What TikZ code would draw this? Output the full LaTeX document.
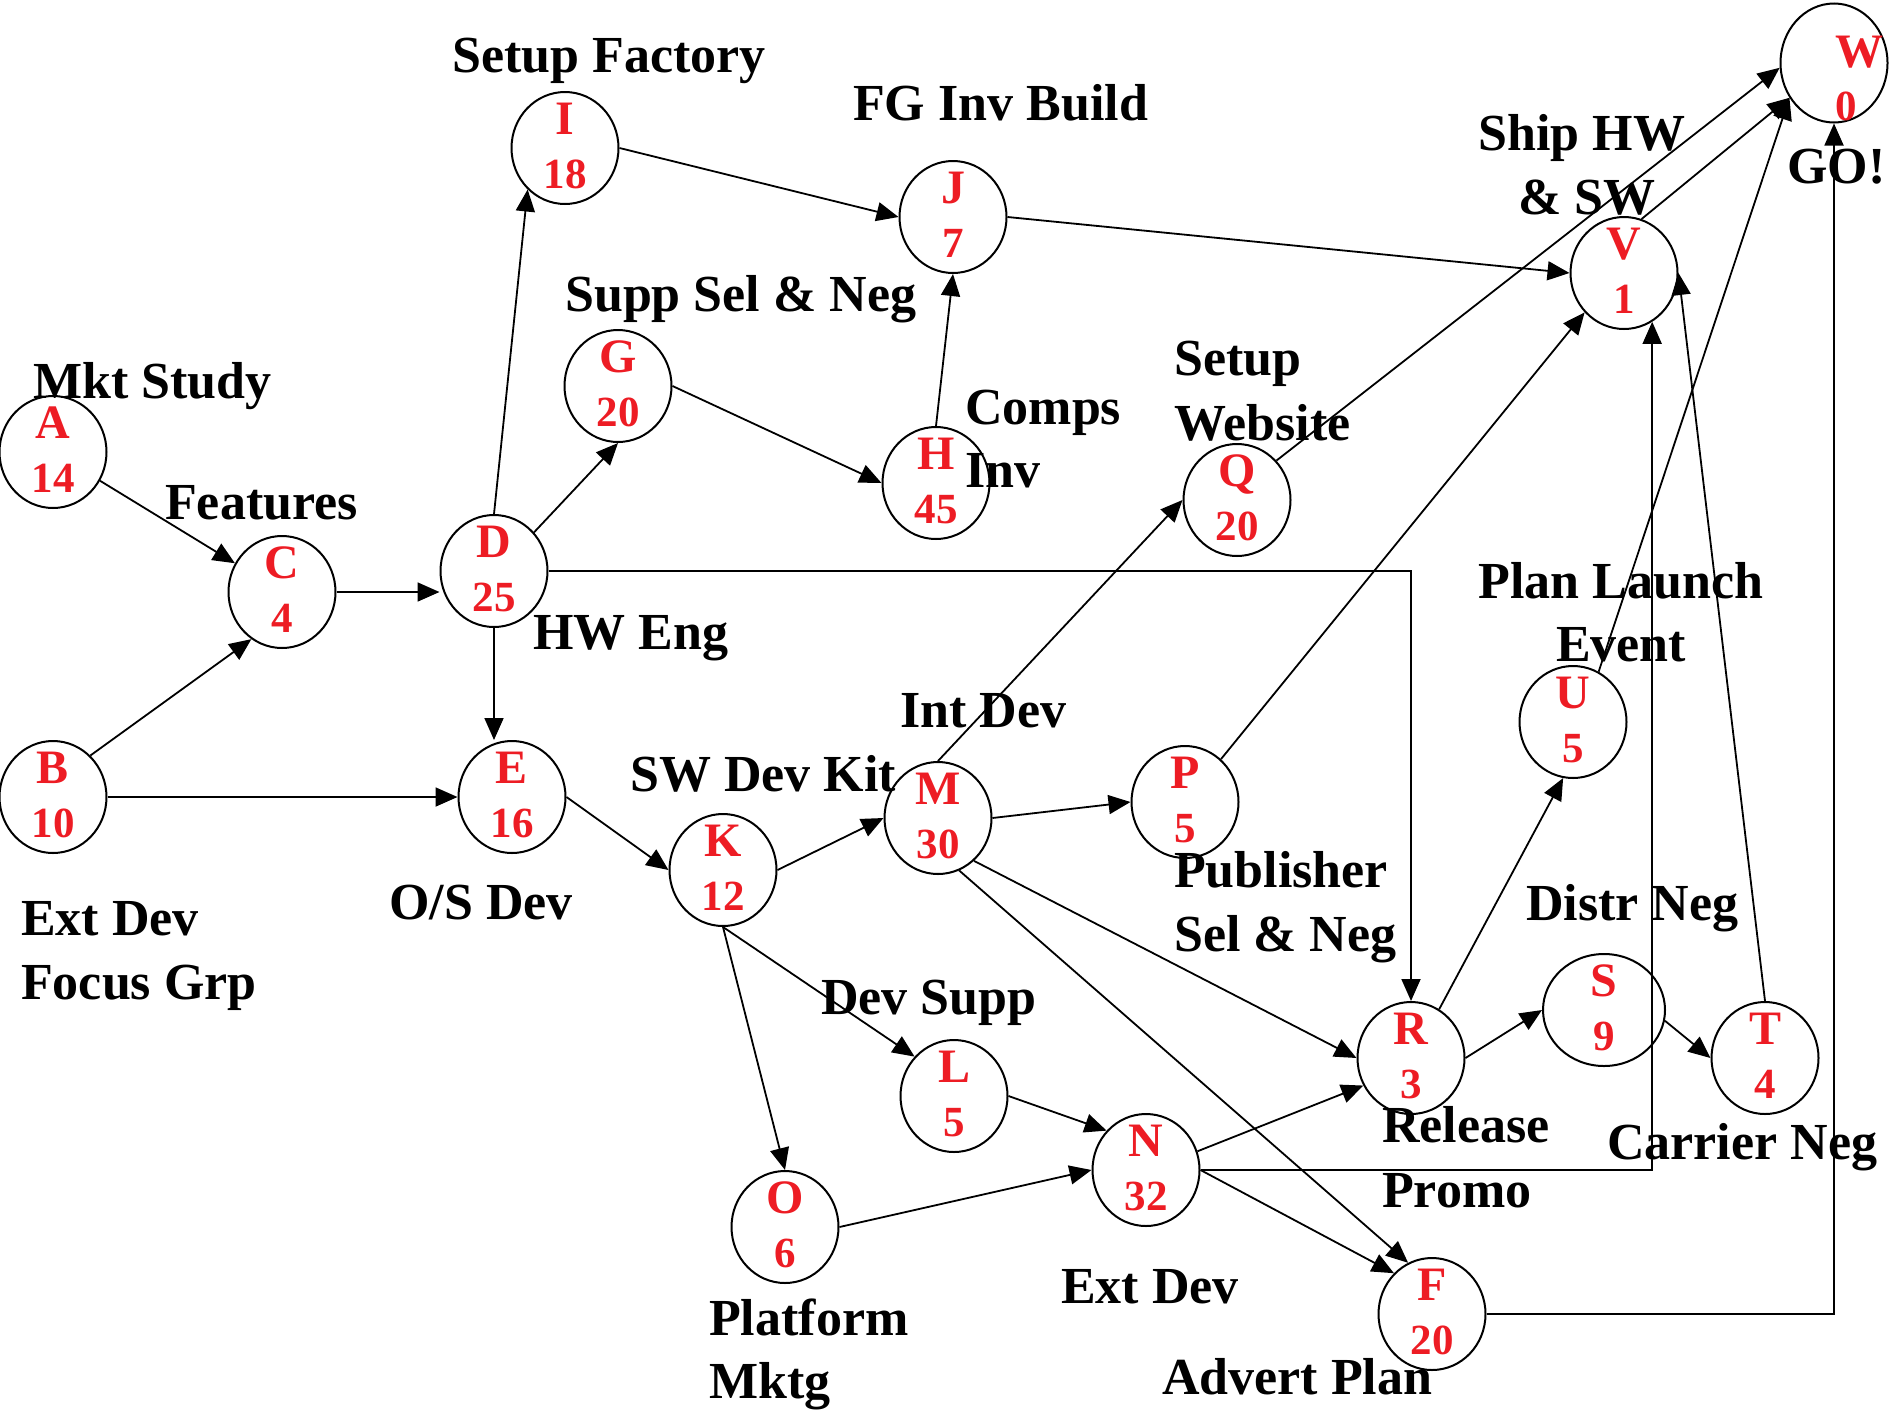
\documentclass[tikz,border=0pt]{standalone}
\usepackage{fontspec}
\setmainfont{Liberation Serif}
\usepackage{tikz}
\usetikzlibrary{shapes.geometric,arrows.meta,calc}
\definecolor{evred}{RGB}{237,28,36}
% event circle: name, x, y, letter, duration
\newcommand{\evt}[5]{%
  \node[ev] (#1) at (#2,#3) {};
  \node[evlet] (#1l) at (#2,#3-14) {#4};
  \node[evnum] (#1n) at (#2,#3+40) {#5};}

\begin{document}
\begin{tikzpicture}[x=1pt, y=-1pt,
    ev/.style={ellipse, draw, line width=2pt, minimum width=107pt, minimum height=112pt, inner sep=0pt},
    evlet/.style={anchor=base, inner sep=0pt, text=evred, font=\fontsize{48}{48}\selectfont\bfseries},
    evnum/.style={anchor=base, inner sep=0pt, text=evred, font=\fontsize{43}{43}\selectfont\bfseries},
    lbl/.style={anchor=base west, inner sep=0pt, font=\fontsize{52}{52}\selectfont\bfseries},
    lblc/.style={lbl, anchor=base},
    arr/.style={-{Triangle[length=22pt,width=19pt]}, line width=1.8pt}
]
    \useasboundingbox (0,0) rectangle (1892,1411);

    % events
    \evt{A}{53}{452}{A}{14}
    \evt{B}{53}{797}{B}{10}
    \evt{C}{282}{592}{C}{4}
    \evt{D}{494}{571}{D}{25}
    \evt{E}{512}{797}{E}{16}
    \evt{F}{1432}{1314}{F}{20}
    \evt{G}{618}{386}{G}{20}
    \evt{H}{936}{483}{H}{45}
    \evt{I}{565}{148}{I}{18}
    \evt{J}{953}{217}{J}{7}
    \evt{K}{723}{870}{K}{12}
    \evt{L}{954}{1096}{L}{5}
    \evt{M}{938}{818}{M}{30}
    \evt{N}{1146}{1170}{N}{32}
    \evt{O}{785}{1227}{O}{6}
    \evt{P}{1185}{802}{P}{5}
    \evt{Q}{1237}{500}{Q}{20}
    \evt{R}{1411}{1058}{R}{3}
    \node[ev, minimum width=122pt] (S) at (1604,1010) {};
    \node[evlet] (Sl) at (1604,996) {S};
    \node[evnum] (Sn) at (1604,1050) {9};
    \evt{T}{1765}{1058}{T}{4}
    \evt{U}{1573}{722}{U}{5}
    \evt{V}{1624}{273}{V}{1}
    \node[ev, minimum height=119pt] (W) at (1834,63) {};
    \node[evlet, anchor=base west] (Wl) at (1835,67) {W};
    \node[evnum, anchor=base west] (Wn) at (1835,120) {0};

    % task labels
    \node[lbl] (tMkt) at (33,398) {Mkt Study};
    \node[lbl] (tFeat) at (165,519) {Features};
    \node[lbl] (tExt1) at (21,935) {Ext Dev};
    \node[lbl] (tExt2) at (21,999) {Focus Grp};
    \node[lbl] (tHW) at (533,649) {HW Eng};
    \node[lbl] (tOS) at (389,919) {O/S Dev};
    \node[lbl] (tFac) at (452,72) {Setup Factory};
    \node[lbl] (tSupp) at (565,311) {Supp Sel \& Neg};
    \node[lbl] (tFG) at (853,120) {FG Inv Build};
    \node[lbl] (tComp1) at (965,424) {Comps};
    \node[lbl] (tComp2) at (965,487) {Inv};
    \node[lbl] (tWeb1) at (1174,375) {Setup};
    \node[lbl] (tWeb2) at (1174,440) {Website};
    \node[lblc] (tShip1) at (1582,150) {Ship HW};
    \node[lblc] (tShip2) at (1587,214) {\& SW};
    \node[lbl] (tGo) at (1787,183) {GO!};
    \node[lblc] (tLaunch1) at (1621,598) {Plan Launch};
    \node[lblc] (tLaunch2) at (1621,661) {Event};
    \node[lbl] (tKit) at (630,791) {SW Dev Kit};
    \node[lbl] (tInt) at (900,727) {Int Dev};
    \node[lbl] (tDevS) at (821,1014) {Dev Supp};
    \node[lbl] (tPlat1) at (709,1335) {Platform};
    \node[lbl] (tPlat2) at (709,1398) {Mktg};
    \node[lbl] (tPub1) at (1174,887) {Publisher};
    \node[lbl] (tPub2) at (1174,951) {Sel \& Neg};
    \node[lbl] (tDistr) at (1526,920) {Distr Neg};
    \node[lbl] (tRel1) at (1382,1142) {Release};
    \node[lbl] (tRel2) at (1382,1207) {Promo};
    \node[lbl] (tCarr) at (1607,1159) {Carrier Neg};
    \node[lbl] (tExtN) at (1061,1303) {Ext Dev};
    \node[lbl] (tAdv) at (1162,1394) {Advert Plan};

    % precedence arrows
    \draw[arr] (A) -- (C);
    \draw[arr] (B.48) -- (C.237);
    \draw[arr] (C.east) -- (C.east -| D.west);
    \draw[arr] (B.east) -- (E.west);
    \draw[arr] (D.north) -- (I.228);
    \draw[arr] (D.44) -- (G.south);
    \draw[arr] (D.south) -- (D.south |- E.north);
    \draw[arr] (D.east) -| (R.north);
    \draw[arr] (E.east) -- (K.west);
    \draw[arr] (I.east) -- (J.west);
    \draw[arr] (G.east) -- (H.west);
    \draw[arr] (H.north) -- (J.south);
    \draw[arr] (J.east) -- (V.west);
    \draw[arr] (K.east) -- (M.west);
    \draw[arr] (K.south) -- (L.135);
    \draw[arr] (K.south) -- (O.north);
    \draw[arr] (M.north) -- (Q.west);
    \draw[arr] (M.east) -- (P.west);
    \draw[arr] (M.310) -- (R.west);
    \draw[arr] (M.292) -- (F.115);
    \draw[arr] (L.east) -- (N.135);
    \draw[arr] (O.east) -- (N.west);
    \draw[arr] (N.20) -- (R.210);
    \draw[arr] (N.east) -- (F.133);
    \draw[arr] (N.east) -| (V.300);
    \draw[arr] (P.50) -- (V.225);
    \draw[arr] (Q.45) -- (W.185);
    \draw[arr] (R.60) -- (U.260);
    \draw[arr] (R.east) -- (S.west);
    \draw[arr] (S.-10) -- (T.west);
    \draw[arr] (T.north) -- (V.east);
    \draw[arr] (U.63) -- (W.218);
    \draw[arr] (V.72) -- (W.218);
    \draw[arr] (F.east) -| (W.south);
\end{tikzpicture}
\end{document}
